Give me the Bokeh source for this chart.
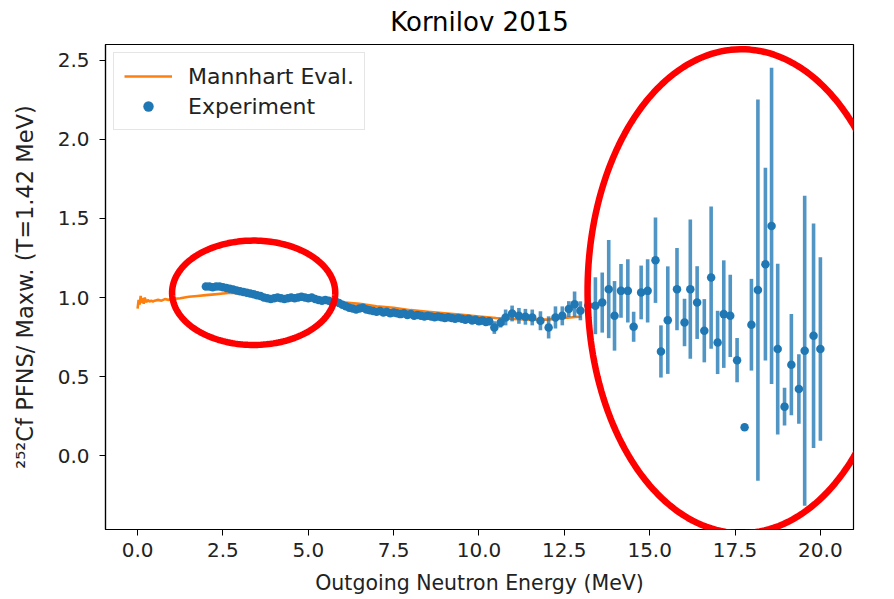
import numpy as np
from bokeh.plotting import figure
from bokeh.models import (ColumnDataSource, FixedTicker, Legend, LegendItem,
                          PolyAnnotation, Range1d)
from bokeh.embed import file_html
from bokeh.resources import INLINE

# ---------------- data ----------------
title_text = "Kornilov 2015"
x_label = "Outgoing Neutron Energy (MeV)"
y_label = "²⁵²Cf PFNS/ Maxw. (T=1.42 MeV)"

x_ticks = [0.0, 2.5, 5.0, 7.5, 10.0, 12.5, 15.0, 17.5, 20.0]
x_tick_labels = ["0.0", "2.5", "5.0", "7.5", "10.0", "12.5", "15.0", "17.5", "20.0"]
y_ticks = [0.0, 0.5, 1.0, 1.5, 2.0, 2.5]
y_tick_labels = ["0.0", "0.5", "1.0", "1.5", "2.0", "2.5"]

# Mannhart evaluation (ratio to Maxwellian)
eval_e = [0.00, 0.03, 0.06, 0.09, 0.12, 0.15, 0.18, 0.21, 0.25, 0.30, 0.35, 0.40,
          0.45, 0.50, 0.60, 0.70, 0.80, 0.90, 1.00, 1.25, 1.50, 1.75, 2.00, 2.25,
          2.50, 2.75, 3.00, 3.25, 3.50, 3.75, 4.00, 4.50, 5.00, 5.50, 6.00, 6.50,
          7.00, 7.50, 8.00, 8.50, 9.00, 9.50, 10.00, 10.50, 11.00, 11.50, 12.00,
          12.50, 13.00]
eval_r = [0.930, 0.985, 0.955, 1.010, 0.965, 0.995, 0.960, 1.000, 0.970, 0.985,
          0.975, 0.980, 0.975, 0.980, 0.985, 0.980, 0.990, 0.985, 0.990, 0.995,
          1.005, 1.010, 1.015, 1.020, 1.025, 1.030, 1.025, 1.020, 1.015, 1.010,
          1.005, 1.000, 0.995, 0.985, 0.970, 0.960, 0.945, 0.935, 0.920, 0.910,
          0.900, 0.890, 0.880, 0.870, 0.865, 0.860, 0.860, 0.870, 0.880]

# Experiment (Kornilov 2015)
exp_e = [2.0, 2.1, 2.2, 2.3, 2.4, 2.5, 2.6, 2.7, 2.8, 2.9,
         3.0, 3.1, 3.2, 3.3, 3.4, 3.5, 3.6, 3.7, 3.8, 3.9,
         4.0, 4.1, 4.2, 4.3, 4.4, 4.5, 4.6, 4.7, 4.8, 4.9,
         5.0, 5.1, 5.2, 5.3, 5.4, 5.5, 5.6, 5.7, 5.8, 5.9,
         6.0, 6.1, 6.2, 6.3, 6.4, 6.5, 6.6, 6.7, 6.8, 6.9,
         7.0, 7.1, 7.2, 7.3, 7.4, 7.5, 7.6, 7.7, 7.8, 7.9,
         8.0, 8.1, 8.2, 8.3, 8.4, 8.5, 8.6, 8.7, 8.8, 8.9,
         9.0, 9.1, 9.2, 9.3, 9.4, 9.5, 9.6, 9.7, 9.8, 9.9,
         10.0, 10.1, 10.2, 10.3, 10.45,
         10.63, 10.78, 10.97, 11.17, 11.36, 11.56, 11.80, 12.04, 12.24, 12.44,
         12.63, 12.80, 12.97, 13.20, 13.41, 13.61, 13.80, 13.97, 14.16, 14.36,
         14.53, 14.75, 14.94, 15.17, 15.33, 15.53, 15.80, 16.02, 16.19, 16.39,
         16.60, 16.80, 16.99, 17.17, 17.36, 17.56, 17.78, 17.98, 18.17, 18.39,
         18.57, 18.75, 18.95, 19.15, 19.37, 19.54, 19.80, 20.00]
exp_r = [1.070, 1.070, 1.065, 1.070, 1.070, 1.065, 1.060, 1.055, 1.050, 1.045,
         1.040, 1.035, 1.030, 1.025, 1.020, 1.015, 1.010, 1.000, 0.995, 0.990,
         0.995, 1.000, 0.995, 0.990, 0.995, 1.000, 0.995, 1.000, 1.005, 1.000,
         0.995, 1.000, 0.990, 0.985, 0.980, 0.985, 0.980, 0.970, 0.975, 0.965,
         0.955, 0.945, 0.935, 0.930, 0.925, 0.930, 0.935, 0.925, 0.920, 0.915,
         0.910, 0.915, 0.905, 0.910, 0.900, 0.905, 0.900, 0.895, 0.900, 0.890,
         0.895, 0.885, 0.890, 0.885, 0.880, 0.885, 0.880, 0.875, 0.880, 0.875,
         0.870, 0.875, 0.870, 0.865, 0.870, 0.865, 0.860, 0.865, 0.855, 0.860,
         0.850, 0.855, 0.845, 0.850, 0.810,
         0.840, 0.874, 0.899, 0.884, 0.878, 0.874, 0.853, 0.811, 0.874, 0.884,
         0.927, 0.958, 0.916, 0.950, 0.948, 0.968, 1.053, 0.884, 1.042, 1.042,
         0.815, 1.032, 1.042, 1.236, 0.659, 0.857, 1.053, 0.842, 1.053, 0.968,
         0.790, 1.126, 0.716, 0.895, 0.884, 0.604, 0.179, 0.828, 1.047, 1.211,
         1.453, 0.674, 0.310, 0.575, 0.421, 0.663, 0.758, 0.674]
exp_err = [0.012, 0.012, 0.012, 0.012, 0.012, 0.012, 0.012, 0.012, 0.012, 0.012,
           0.012, 0.012, 0.012, 0.012, 0.012, 0.012, 0.012, 0.012, 0.012, 0.012,
           0.013, 0.013, 0.013, 0.013, 0.013, 0.013, 0.013, 0.013, 0.013, 0.013,
           0.014, 0.014, 0.014, 0.014, 0.014, 0.014, 0.014, 0.014, 0.014, 0.014,
           0.015, 0.015, 0.015, 0.015, 0.015, 0.015, 0.015, 0.015, 0.015, 0.015,
           0.016, 0.016, 0.016, 0.016, 0.016, 0.016, 0.016, 0.016, 0.016, 0.016,
           0.018, 0.018, 0.018, 0.018, 0.018, 0.018, 0.018, 0.018, 0.018, 0.018,
           0.020, 0.020, 0.020, 0.020, 0.020, 0.020, 0.020, 0.020, 0.020, 0.020,
           0.022, 0.022, 0.025, 0.025, 0.040,
           0.030, 0.050, 0.050, 0.050, 0.050, 0.050, 0.060, 0.070, 0.070, 0.060,
           0.050, 0.080, 0.060, 0.100, 0.180, 0.190, 0.310, 0.220, 0.170, 0.200,
           0.095, 0.170, 0.200, 0.270, 0.165, 0.340, 0.260, 0.150, 0.440, 0.230,
           0.200, 0.450, 0.200, 0.340, 0.260, 0.140, 0.010, 0.290, 1.205, 0.610,
           1.000, 0.540, 0.120, 0.320, 0.220, 0.980, 0.710, 0.580]

# highlight ellipses (centre energy, centre ratio, half-width MeV, half-height)
hl_cx = [3.40, 17.69]
hl_cy = [1.03, 1.04]
hl_ax = [2.39, 4.51]
hl_by = [0.33, 1.53]

# ---------------- figure ----------------
FONT = "DejaVu Sans"
W, H = 894, 599

p = figure(width=W, height=H, output_backend="svg", toolbar_location=None,
           x_range=Range1d(-0.94, 20.97), y_range=Range1d(-0.467, 2.60),
           min_border_left=105, min_border_right=41, min_border_top=43,
           min_border_bottom=70, title=title_text)

p.background_fill_color = "white"
p.border_fill_color = "white"
p.outline_line_color = "black"
p.outline_line_width = 1.2
p.grid.visible = False

p.title.align = "center"
p.title.vertical_align = "top"
p.title.text_font = FONT
p.title.text_font_size = "26px"
p.title.text_font_style = "normal"
p.title.text_color = "#000000"
p.title.offset = 0
p.title.standoff = 12

for ax, ticks, labels in ((p.xaxis[0], x_ticks, x_tick_labels),
                          (p.yaxis[0], y_ticks, y_tick_labels)):
    ax.ticker = FixedTicker(ticks=ticks)
    ax.major_label_overrides = {t: l for t, l in zip(ticks, labels)}
    ax.major_label_text_font = FONT
    ax.major_label_text_font_size = "20px"
    ax.major_label_text_color = "#222222"
    ax.axis_label_text_font = FONT
    ax.axis_label_text_font_style = "normal"
    ax.axis_label_text_color = "#222222"
    ax.minor_tick_line_color = None
    ax.major_tick_in = 0
    ax.major_tick_out = 6
    ax.major_tick_line_color = "black"
    ax.axis_line_color = "black"
    ax.axis_line_width = 1.2

p.xaxis.axis_label = x_label
p.yaxis.axis_label = y_label
p.xaxis.axis_label_text_font_size = "20.5px"
p.yaxis.axis_label_text_font_size = "22.5px"
p.xaxis.major_label_standoff = 7
p.yaxis.major_label_standoff = 10
p.xaxis.axis_label_standoff = 11
p.yaxis.axis_label_standoff = 17

# evaluation curve
ev_src = ColumnDataSource(dict(e=eval_e, r=eval_r))
ev = p.line("e", "r", source=ev_src, line_color="#ff7f0e", line_width=2.6)

# experiment error bars and points
ex_src = ColumnDataSource(dict(
    e=exp_e, r=exp_r,
    lo=[r - d for r, d in zip(exp_r, exp_err)],
    hi=[r + d for r, d in zip(exp_r, exp_err)]))
bars = p.segment("e", "lo", "e", "hi", source=ex_src, line_color="#1f77b4",
                 line_alpha=0.78, line_width=3.6)
pts = p.scatter("e", "r", source=ex_src, size=8.5, fill_color="#1f77b4",
                line_color="#1f77b4", line_width=0)

legend = Legend(items=[LegendItem(label="Mannhart Eval.", renderers=[ev]),
                       LegendItem(label="Experiment", renderers=[pts])],
                location="top_left")
legend.label_text_font = FONT
legend.label_text_font_size = "22px"
legend.label_text_color = "#222222"
legend.glyph_width = 48
legend.glyph_height = 26
legend.label_height = 26
legend.label_standoff = 16
legend.spacing = 4
legend.padding = 10
legend.margin = 8
legend.border_line_color = "#cccccc"
legend.border_line_width = 1.2
legend.background_fill_alpha = 0.85
p.add_layout(legend)

# red highlight ellipses
t = np.linspace(0, 2 * np.pi, 200)
for cx, cy, ax_, by in zip(hl_cx, hl_cy, hl_ax, hl_by):
    p.add_layout(PolyAnnotation(xs=list(cx + ax_ * np.cos(t)),
                                ys=list(cy + by * np.sin(t)),
                                fill_alpha=0, line_color="#ff0000",
                                line_alpha=1.0, line_width=6.5,
                                level="overlay"))

open("out.html", "w").write(file_html(p, INLINE))
